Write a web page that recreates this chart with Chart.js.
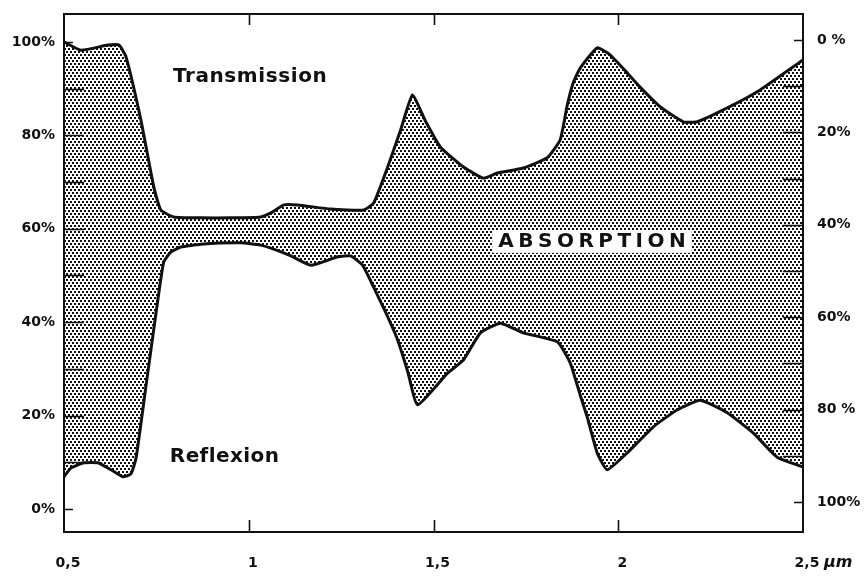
<!DOCTYPE html>
<html>
<head>
<meta charset="utf-8">
<script src="https://cdn.jsdelivr.net/npm/chart.js@4.4.1/dist/chart.umd.min.js"></script>
<style>
  html, body { margin: 0; padding: 0; background: #fff; }
  #wrap { width: 864px; height: 577px; }
</style>
</head>
<body>
<div id="wrap"><canvas id="chart" width="864" height="577"></canvas></div>
<script>
// Wavelength (µm) and transmission (%) — transmission is read on the right-hand, inverted scale
const transWavelength = [0.500, 0.546, 0.619, 0.649, 0.668, 0.708, 0.743, 0.762, 0.797, 0.870, 0.951, 1.032, 1.065, 1.095, 1.132, 1.222, 1.311, 1.338, 1.376, 1.411, 1.443, 1.478, 1.519, 1.581, 1.635, 1.673, 1.743, 1.808, 1.843, 1.862, 1.878, 1.897, 1.943, 1.978, 2.024, 2.059, 2.114, 2.176, 2.214, 2.295, 2.384, 2.500];
const transValues     = [0.4, 2.2, 1.1, 1.1, 3.7, 17.3, 31.8, 36.8, 38.3, 38.5, 38.5, 38.3, 37.2, 35.7, 35.7, 36.6, 36.8, 35.3, 27.5, 19.5, 11.9, 17.5, 23.2, 27.5, 29.9, 28.8, 27.7, 25.5, 21.6, 14.1, 9.3, 6.1, 1.7, 3.2, 7.1, 10.2, 14.5, 17.7, 17.7, 14.7, 10.8, 4.3];

// Wavelength (µm) and reflection (%) — read on the left-hand scale
const reflWavelength = [0.500, 0.519, 0.554, 0.592, 0.627, 0.659, 0.681, 0.695, 0.724, 0.754, 0.770, 0.789, 0.816, 0.870, 0.978, 1.032, 1.073, 1.114, 1.168, 1.241, 1.276, 1.308, 1.338, 1.370, 1.403, 1.430, 1.457, 1.538, 1.581, 1.627, 1.681, 1.743, 1.835, 1.870, 1.897, 1.916, 1.943, 1.970, 2.024, 2.095, 2.159, 2.222, 2.295, 2.365, 2.430, 2.500];
const reflValues     = [6.9, 8.8, 9.9, 9.9, 8.4, 6.9, 7.5, 10.9, 27.6, 44.8, 52.9, 55.0, 56.1, 56.7, 57.0, 56.5, 55.5, 54.2, 52.2, 54.0, 54.2, 52.2, 47.5, 42.2, 36.2, 29.5, 22.3, 29.1, 31.9, 37.7, 39.8, 37.7, 35.8, 31.3, 24.4, 19.7, 12.0, 8.4, 12.0, 17.6, 21.2, 23.3, 20.6, 16.3, 11.1, 9.0];

// Axis ticks and their labels
const xTicks        = [0.5, 1, 1.5, 2, 2.5];
const xTickLabels   = ['0,5', '1', '1,5', '2', '2,5'];
const xUnit         = 'µm';
const leftTicks     = [0, 20, 40, 60, 80, 100];
const leftLabels    = ['0%', '20%', '40%', '60%', '80%', '100%'];
const rightTicks    = [0, 20, 40, 60, 80, 100];
const rightLabels   = ['0 %', '20%', '40%', '60%', '80 %', '100%'];
const minorPercent  = [0, 10, 20, 30, 40, 50, 60, 70, 80, 90, 100];

// Region names
const regionLabels = ['Transmission', 'Reflexion', 'ABSORPTION'];

const INK = '#111';
const tickFont = { family: 'DejaVu Sans', size: 14, weight: 'bold' };

// Stipple pattern for the absorption band
function makeStipple() {
  const t = document.createElement('canvas');
  t.width = 8; t.height = 6;
  const g = t.getContext('2d');
  g.fillStyle = '#fff';
  g.fillRect(0, 0, 8, 6);
  g.fillStyle = INK;
  [[0, 0], [4, 0], [2, 3], [6, 3]].forEach(([x, y]) => g.fillRect(x, y, 2, 2));
  return g.createPattern(t, 'repeat');
}
const stipple = makeStipple();

// Fixed box sizes so the plot frame sits at a set place
const fixBox = (w, h) => s => {
  if (w !== null) s.width = w;
  if (h !== null) s.height = h;
  s.paddingTop = 0; s.paddingBottom = 0; s.paddingLeft = 0; s.paddingRight = 0;
};

// Frame, inward tick marks and region names
const decorations = {
  id: 'decorations',
  afterDatasetsDraw(chart) {
    const { ctx, chartArea: a, scales } = chart;
    const sx = scales.x, sl = scales.y, sr = scales.yR;
    ctx.save();
    ctx.strokeStyle = INK;
    ctx.lineWidth = 2;
    ctx.strokeRect(a.left, a.top, a.right - a.left, a.bottom - a.top);

    ctx.lineWidth = 1.6;
    ctx.beginPath();
    xTicks.slice(1, -1).forEach(v => {
      const px = Math.round(sx.getPixelForValue(v)) + 0.5;
      ctx.moveTo(px, a.bottom); ctx.lineTo(px, a.bottom - 12);
      ctx.moveTo(px, a.top);    ctx.lineTo(px, a.top + 11);
    });
    minorPercent.forEach(v => {
      const len = (v === 0 || v === 100) ? 9 : 20;
      const yl = Math.round(sl.getPixelForValue(v)) + 0.5;
      ctx.moveTo(a.left, yl); ctx.lineTo(a.left + len, yl);
      const yr = Math.round(sr.getPixelForValue(v)) + 0.5;
      ctx.moveTo(a.right, yr); ctx.lineTo(a.right - len, yr);
    });
    ctx.stroke();

    // unit after the last x label
    ctx.fillStyle = INK;
    ctx.textBaseline = 'middle';
    ctx.textAlign = 'left';
    ctx.font = 'italic bold 16px "DejaVu Sans"';
    ctx.fillText(xUnit, sx.getPixelForValue(2.5) + 21, a.bottom + 31);

    const spaced = (text, cx, cy, font, spacing, box) => {
      ctx.font = font;
      ctx.letterSpacing = spacing + 'px';
      const w = ctx.measureText(text).width - spacing;
      if (box) {
        ctx.fillStyle = '#fff';
        ctx.fillRect(cx - w / 2 - 6, cy - 11, w + 12, 22);
      }
      ctx.fillStyle = INK;
      ctx.textAlign = 'left';
      ctx.textBaseline = 'middle';
      ctx.fillText(text, cx - w / 2, cy);
      ctx.letterSpacing = '0px';
    };
    spaced(regionLabels[0], sx.getPixelForValue(1.003), sl.getPixelForValue(92.5), 'bold 20px "DejaVu Sans"', 0.6, false);
    spaced(regionLabels[1], sx.getPixelForValue(0.934), sl.getPixelForValue(11.1), 'bold 20px "DejaVu Sans"', 0.4, false);
    spaced(regionLabels[2], sx.getPixelForValue(1.929), sl.getPixelForValue(57.2), 'bold 20px "DejaVu Sans"', 4.5, true);
    ctx.restore();
  }
};

new Chart(document.getElementById('chart'), {
  type: 'line',
  data: {
    datasets: [
      {
        label: 'Transmission',
        data: transWavelength.map((x, i) => ({ x, y: transValues[i] })),
        yAxisID: 'yR',
        borderColor: INK,
        borderWidth: 3,
        pointRadius: 0,
        tension: 0.15,
        fill: false
      },
      {
        label: 'Reflexion',
        data: reflWavelength.map((x, i) => ({ x, y: reflValues[i] })),
        yAxisID: 'y',
        borderColor: INK,
        borderWidth: 3,
        pointRadius: 0,
        tension: 0.15,
        backgroundColor: stipple,
        fill: '-1'
      }
    ]
  },
  options: {
    responsive: false,
    animation: false,
    events: [],
    layout: { padding: { top: 14, left: 0, right: 0, bottom: 0 } },
    plugins: { legend: { display: false }, tooltip: { enabled: false } },
    scales: {
      x: {
        type: 'linear', position: 'bottom', min: 0.5, max: 2.5,
        afterBuildTicks: s => { s.ticks = xTicks.map(v => ({ value: v })); },
        afterFit: fixBox(null, 45),
        grid: { display: false, drawTicks: false }, border: { display: false },
        ticks: { padding: 23, labelOffset: 4, maxRotation: 0, autoSkip: false, color: INK, font: tickFont,
                 callback: (v, i) => xTickLabels[i] }
      },
      y: {
        type: 'linear', position: 'left', min: -4.93, max: 106,
        afterBuildTicks: s => { s.ticks = leftTicks.map(v => ({ value: v })); },
        afterFit: fixBox(64, null),
        grid: { display: false, drawTicks: false }, border: { display: false },
        ticks: { padding: 9, autoSkip: false, color: INK, font: tickFont,
                 callback: (v, i) => leftLabels[i] }
      },
      yR: {
        type: 'linear', position: 'right', reverse: true, min: -5.63, max: 106.5,
        afterBuildTicks: s => { s.ticks = rightTicks.map(v => ({ value: v })); },
        afterFit: fixBox(61, null),
        grid: { display: false, drawTicks: false }, border: { display: false },
        ticks: { padding: 14, autoSkip: false, color: INK, font: tickFont,
                 callback: (v, i) => rightLabels[i] }
      }
    }
  },
  plugins: [decorations]
});
</script>
</body>
</html>
